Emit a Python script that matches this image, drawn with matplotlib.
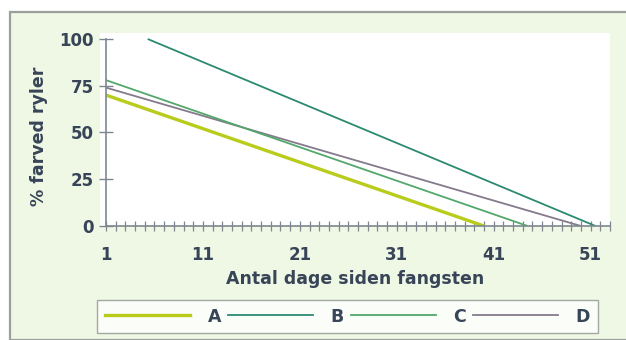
import matplotlib
matplotlib.use("Agg")
import matplotlib.pyplot as plt
from matplotlib.patches import Rectangle
from matplotlib.lines import Line2D

# Days since capture (start, end) and % of coloured birds for each group
series = ["A", "B", "C", "D"]
days_A = [1, 40]
pct_A = [70, 0]
days_B = [5.3, 51.5]
pct_B = [100, 0]
days_C = [1, 44.5]
pct_C = [78, 0]
days_D = [1, 50]
pct_D = [74, 0]

x_ticks = list(range(1, 54))
x_labels = [1, 11, 21, 31, 41, 51]
y_ticks = [0, 25, 50, 75, 100]

colors = {"A": "#b9cc1c", "B": "#2b8a70", "C": "#52a86a", "D": "#847a8c"}
widths = {"A": 2.4, "B": 1.3, "C": 1.3, "D": 1.3}
text_color = "#384457"
axis_color = "#7d8790"
panel_bg = "#eff8e5"

plt.rcParams["font.family"] = ["DejaVu Sans"]
plt.rcParams["font.weight"] = "bold"

W, H = 626, 340
fig = plt.figure(figsize=(W / 100, H / 100), dpi=100)
fig.patch.set_facecolor("white")

# Panel background with grey frame on the top and left
fig.patches.append(Rectangle((10 / W, 0), 1 - 10 / W + 0.01, 1 - 12 / H,
                             transform=fig.transFigure, facecolor=panel_bg,
                             edgecolor="#9aa09c", linewidth=1.6, zorder=-10))

ax = fig.add_axes([100 / W, 1 - 226 / H, (610 - 100) / W, (226 - 33) / H])
ax.set_zorder(2)
ax.set_facecolor("white")
ax.set_xlim(0.38, 53)
ax.set_ylim(0, 103.2)

data = {"A": (days_A, pct_A), "B": (days_B, pct_B),
        "C": (days_C, pct_C), "D": (days_D, pct_D)}
for name in ["D", "C", "B", "A"]:
    xs, ys = data[name]
    ax.plot(xs, ys, color=colors[name], lw=widths[name],
            solid_capstyle="butt", zorder=3)

for side in ["top", "right"]:
    ax.spines[side].set_visible(False)
ax.spines["left"].set_position(("data", 1))
ax.spines["left"].set_bounds(0, 100)
ax.spines["bottom"].set_bounds(1, 53)
for side in ["left", "bottom"]:
    ax.spines[side].set_color(axis_color)
    ax.spines[side].set_linewidth(1.2)
    ax.spines[side].set_zorder(4)

ax.set_xticks(x_ticks)
ax.set_xticklabels([str(d) if d in x_labels else "" for d in x_ticks])
ax.set_yticks(y_ticks)
ax.tick_params(axis="x", direction="inout", length=7, width=0.9,
               color=axis_color, labelsize=12, labelcolor=text_color, pad=11)
ax.tick_params(axis="y", direction="inout", length=10, width=1.0,
               color=axis_color, labelsize=12, labelcolor=text_color, pad=4)
for lab in ax.get_xticklabels() + ax.get_yticklabels():
    lab.set_fontweight("bold")

ax.set_xlabel("Antal dage siden fangsten", fontsize=12.5, fontweight="bold",
              color=text_color, labelpad=4)
fig.text(39 / W, 1 - 136 / H, "% farved ryler", rotation=90, ha="center",
         va="center", fontsize=12.5, fontweight="bold", color=text_color)

handles = [Line2D([], [], color=colors[n], lw=widths[n]) for n in series]
leg = fig.legend(handles, series, loc="center", ncol=4,
                 bbox_to_anchor=(347.5 / W, 1 - 316.5 / H),
                 fontsize=12.5, handlelength=4.9, handletextpad=1.0,
                 columnspacing=0.4, frameon=True, fancybox=False,
                 borderpad=0.45, borderaxespad=0)
leg.get_frame().set_edgecolor("#8e948f")
leg.get_frame().set_linewidth(1.0)
for t in leg.get_texts():
    t.set_color(text_color)
    t.set_fontweight("bold")

fig.savefig("out.png", dpi=100, facecolor=fig.get_facecolor())
